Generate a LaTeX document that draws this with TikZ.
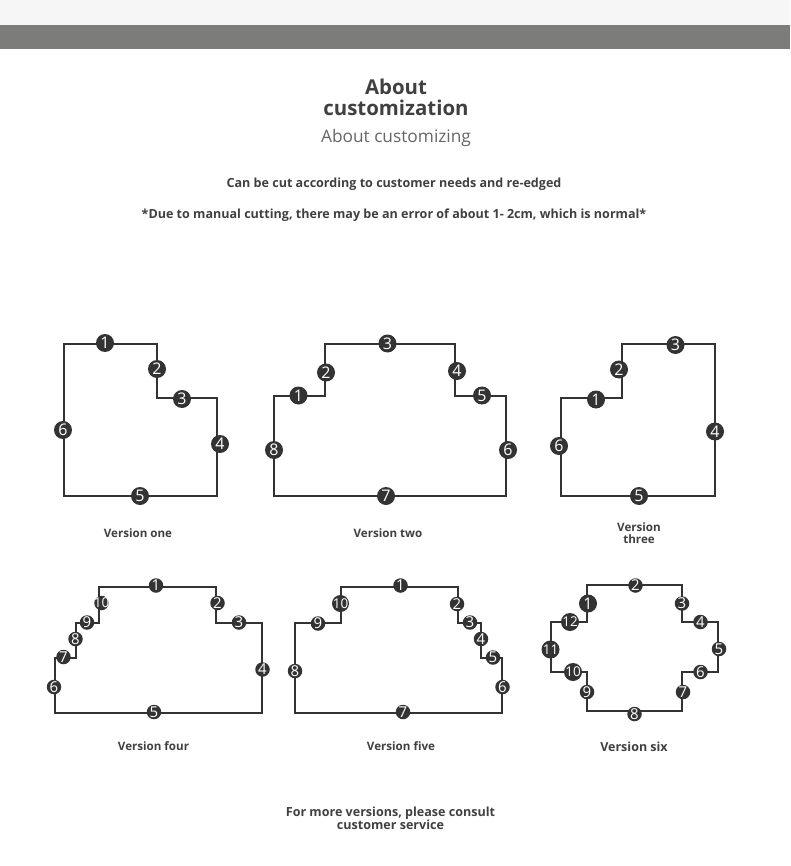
\documentclass[tikz,border=0pt]{standalone}
\usepackage{fontspec}
\setmainfont{Open Sans}
\definecolor{ink}{HTML}{333333}
\definecolor{txt}{HTML}{404040}
\definecolor{band}{HTML}{7C7D7B}
\definecolor{topband}{HTML}{F6F6F6}
\newcommand\dg[1]{\makebox[0pt]{\ifnum#1>9 \fontsize{13.5}{14}\selectfont\fi #1}}
\tikzset{
  x=1pt,y=-1pt,
  outline/.style={draw=ink,line width=2pt,line join=miter,fill=none},
  num/.style={circle,fill=ink,text=white,inner sep=0pt,minimum size=18pt,font=\fontsize{16}{16}\selectfont},
  nums/.style={circle,fill=ink,text=white,inner sep=0pt,minimum size=14.5pt,font=\fontsize{15}{15}\selectfont},
  lab/.style={text=txt,font=\bfseries\fontsize{11.6}{12.5}\selectfont,align=center,inner sep=0pt},
  small/.style={text=txt,font=\bfseries\fontsize{12.55}{13}\selectfont,align=center,inner sep=0pt},
}
\begin{document}
\begin{tikzpicture}
\useasboundingbox (0,0) rectangle (790,866);
\fill[white] (0,0) rectangle (790,866);
\fill[topband] (0,0) rectangle (790,25);
\fill[band] (0,25) rectangle (790,49);
\node[text=txt,font=\bfseries\fontsize{20.4}{21}\selectfont,align=center,inner sep=0pt] (t1) at (396,97.5) {About\\customization};
\node[text=black!60,font=\fontsize{17.3}{18}\selectfont,inner sep=0pt] (t2) at (396,138) {About customizing};
\node[small] (t3) at (394,184.5) {Can be cut according to customer needs and re-edged};
\node[small] (t4) at (394,215) {*Due to manual cutting, there may be an error of about 1- 2cm, which is normal*};
% one
\draw[outline] (64,344)--(157,344)--(157,398)--(217,398)--(217,495.5)--(64,495.5)--cycle;
\foreach \n/\x/\y in {1/105/343,2/157/369,3/182/399,4/220/444,5/140/496,6/63/430}
  \node[num] (a\n) at (\x,\y) {\dg{\n}};
\node[lab] (la) at (138,533) {Version one};
% two
\draw[outline] (274,495.5)--(274,396)--(325,396)--(325,344)--(455,344)--(455,396)--(506,396)--(506,495.5)--cycle;
\foreach \n/\x/\y in {1/298.5/395.5,2/326/372.5,3/387.5/343.5,4/457/371,5/482/395.5,6/508/450,7/386/496,8/274/450}
  \node[num] (b\n) at (\x,\y) {\dg{\n}};
\node[lab] (lb) at (388,533) {Version two};
% three
\draw[outline] (561,495.5)--(561,398)--(622,398)--(622,344)--(715,344)--(715,495.5)--cycle;
\foreach \n/\x/\y in {1/596/399.5,2/619/369.5,3/675.5/345,4/715/431.5,5/639/496,6/559/446}
  \node[num] (c\n) at (\x,\y) {\dg{\n}};
\node[lab] (lc) at (639,533) {Version\\three};
% four
\draw[outline] (55,712.5)--(55,658)--(76,658)--(76,622.5)--(99,622.5)--(99,587)--(216,587)--(216,622.5)--(262,622.5)--(262,712.5)--cycle;
\foreach \n/\x/\y in {1/156/585.5,2/217.5/603,3/239/622.5,4/262.5/669.5,5/154/712,6/54/687,7/63.5/657,8/75.5/639,9/87/622.5}
  \node[nums] (d\n) at (\x,\y) {\dg{\n}};
\node[nums] (d10) at (101.5,603) {\dg{10}};
\node[lab] (ld) at (153.5,746) {Version four};
% five
\draw[outline] (295,712.5)--(295,622.5)--(341,622.5)--(341,587)--(458,587)--(458,622.5)--(481,622.5)--(481,657.5)--(502,657.5)--(502,712.5)--cycle;
\foreach \n/\x/\y in {1/400.5/585.5,2/457/604,3/470/622.5,4/481/639,5/493/657.5,6/502.5/687,7/403/712,8/295/671,9/318/623.5}
  \node[nums] (e\n) at (\x,\y) {\dg{\n}};
\node[nums,minimum size=17pt] (e10) at (340.5,603.5) {\dg{10}};
\node[lab] (le) at (401,746) {Version five};
% six
\draw[outline] (586.5,585)--(681.5,585)--(681.5,622)--(718,622)--(718,671.5)--(681.5,671.5)--(681.5,710.5)--(586.5,710.5)--(586.5,671.5)--(551,671.5)--(551,622)--(586.5,622)--cycle;
\foreach \n/\x/\y in {2/635.5/585.5,3/682/603.5,4/700.5/622,5/719/649,6/700.5/672,7/683/692,8/634.5/714,9/587/692}
  \node[nums] (f\n) at (\x,\y) {\dg{\n}};
\foreach \n/\x/\y in {1/588/603.5,10/573/672,11/550.5/649.5,12/570/622}
  \node[num] (f\n) at (\x,\y) {\dg{\n}};
\node[lab,font=\bfseries\fontsize{12.5}{13}\selectfont] (lf) at (634,747) {Version six};
\node[small] (m) at (390.5,818) {For more versions, please consult\\customer service};
\end{tikzpicture}
\end{document}
